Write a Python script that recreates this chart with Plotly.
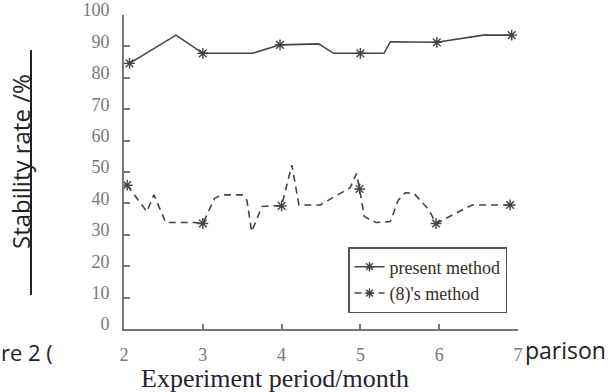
import plotly.graph_objects as go

# ---- data ----
x_ticks = [2, 3, 4, 5, 6, 7]
y_ticks = [0, 10, 20, 30, 40, 50, 60, 70, 80, 90, 100]

present_x = [2.07, 2.66, 3.0, 3.63, 3.98, 4.47, 4.66, 5.0, 5.3, 5.38, 5.97, 6.56, 6.92]
present_y = [84.6, 93.6, 87.8, 87.8, 90.5, 90.8, 87.8, 87.8, 87.8, 91.5, 91.3, 93.6, 93.6]
present_marked = [0, 2, 4, 7, 10, 12]

ref_x = [2.04, 2.29, 2.38, 2.53, 2.89, 3.0, 3.15, 3.24, 3.5, 3.56, 3.62, 3.75, 3.86, 4.0,
         4.13, 4.22, 4.49, 4.87, 4.95, 4.99, 5.05, 5.2, 5.38, 5.48, 5.57, 5.68, 5.87, 5.96,
         6.29, 6.42, 6.9]
ref_y = [45.8, 37.4, 42.7, 33.9, 33.9, 33.6, 41.6, 42.7, 42.7, 41.0, 31.0, 39.0, 39.2, 39.2,
         52.2, 39.5, 39.5, 45.0, 49.5, 44.6, 35.8, 33.9, 34.2, 41.0, 43.4, 43.2, 37.9, 33.6,
         37.9, 39.5, 39.5]
ref_marked = [0, 5, 13, 19, 27, 30]

series_names = ["present method", "(8)'s method"]

LINE_C = "#444444"
SERIF = "Liberation Serif, Times New Roman, serif"
SANS = "Open Sans, Noto Sans, sans-serif"

fig = go.Figure()

def add_series(xs, ys, marked, name, dash):
    fig.add_trace(go.Scatter(x=xs, y=ys, mode="lines", showlegend=False,
                             line=dict(color=LINE_C, width=1.6, dash=dash)))
    fig.add_trace(go.Scatter(x=[xs[i] for i in marked], y=[ys[i] for i in marked],
                             mode="markers", showlegend=False,
                             marker=dict(symbol="asterisk-open", size=9, color=LINE_C,
                                         line=dict(color=LINE_C, width=1.4))))
    # legend entry
    fig.add_trace(go.Scatter(x=[None], y=[None], mode="lines+markers", name=name,
                             line=dict(color=LINE_C, width=1.5, dash=dash),
                             marker=dict(symbol="asterisk-open", size=8, color=LINE_C,
                                         line=dict(color=LINE_C, width=1.4))))

add_series(present_x, present_y, present_marked, series_names[0], "solid")
add_series(ref_x, ref_y, ref_marked, series_names[1], "7px,5px")

fig.update_layout(
    width=611, height=392,
    margin=dict(l=124, r=93, t=15, b=63),
    paper_bgcolor="white", plot_bgcolor="white",
    showlegend=True,
    legend=dict(x=(348 - 124) / 394, y=(329 - 247) / 314, xanchor="left", yanchor="top",
                bordercolor="#555555", borderwidth=1.5, bgcolor="white",
                font=dict(family=SERIF, size=18, color="#3a2a22"),
                tracegroupgap=0, itemwidth=30),
    xaxis=dict(range=[2, 7], tickvals=x_ticks, ticktext=[str(v) for v in x_ticks],
               ticks="inside", ticklen=5, tickcolor="#777777", tickwidth=1.5,
               showline=True, linecolor="#777777", linewidth=1.8, automargin=False,
               showgrid=False, zeroline=False, ticklabelstandoff=8,
               tickfont=dict(family=SERIF, size=18, color="#777777")),
    yaxis=dict(range=[0, 100], tickvals=y_ticks, ticktext=[str(v) for v in y_ticks],
               ticks="inside", ticklen=6, tickcolor="#777777", tickwidth=1.5,
               showline=True, linecolor="#777777", linewidth=1.8, automargin=False,
               showgrid=False, zeroline=False, ticklabelstandoff=9,
               ticklabelshift=-5,
               tickfont=dict(family=SERIF, size=18, color="#777777")),
)

# x axis title
fig.add_annotation(text="Experiment period/month", xref="paper", yref="paper",
                   x=(275 - 124) / 394, y=-(378 - 329) / 314, xanchor="center", yanchor="middle",
                   showarrow=False, font=dict(family=SERIF, size=26, color="#2a2030"))

# overlaid document text
fig.add_annotation(text="Stability rate /%", xref="paper", yref="paper",
                   x=(20 - 124) / 394, y=(329 - 162) / 314, xanchor="center", yanchor="middle",
                   textangle=-90, showarrow=False,
                   font=dict(family=SANS, size=24, color="#222222"))
fig.add_shape(type="line", xref="paper", yref="paper",
              x0=(31 - 124) / 394, x1=(31 - 124) / 394,
              y0=(329 - 50) / 314, y1=(329 - 295) / 314,
              line=dict(color="#222222", width=2))
fig.add_annotation(text="re 2 (", xref="paper", yref="paper",
                   x=(-1 - 124) / 394, y=-(352 - 329) / 314, xanchor="left", yanchor="middle",
                   showarrow=False, font=dict(family=SANS, size=22, color="#222222"))
fig.add_annotation(text="parison", xref="paper", yref="paper",
                   x=(523 - 124) / 394, y=-(350 - 329) / 314, xanchor="left", yanchor="middle",
                   showarrow=False, font=dict(family=SANS, size=23, color="#222222"))

fig.write_html("out.html", config={"displayModeBar": False},
               post_script="document.body.style.margin='0';document.body.style.overflow='hidden';")
